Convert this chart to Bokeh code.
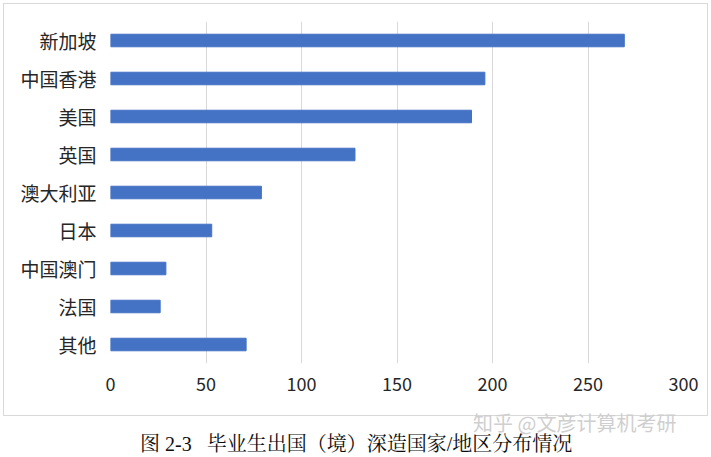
from bokeh.plotting import figure
from bokeh.models import Range1d, FixedTicker, InlineStyleSheet, Div
from bokeh.layouts import column
from bokeh.embed import file_html
from bokeh.resources import INLINE

categories = ["新加坡", "中国香港", "美国", "英国", "澳大利亚", "日本", "中国澳门", "法国", "其他"]
values = [269, 196, 189, 128, 79, 53, 29, 26, 71]
x_ticks = [0, 50, 100, 150, 200, 250, 300]
caption = "图 2-3&nbsp;&nbsp;&nbsp;毕业生出国（境）深造国家/地区分布情况"
watermark = "知乎 @文彦计算机考研"

W = 711
FIG_H = 417
border_css = InlineStyleSheet(css="""
:host { position: relative; }
:host::after {
  content: "";
  position: absolute;
  left: 3px; top: 3px;
  width: 705px; height: 413px;
  border: 1px solid #d9d9d9;
  box-sizing: border-box;
  pointer-events: none;
}
""")

p = figure(width=W, height=FIG_H, y_range=categories[::-1], x_range=Range1d(0, 300),
           output_backend="svg", toolbar_location=None,
           min_border_left=110, min_border_right=28, min_border_top=21,
           min_border_bottom=FIG_H - 363,
           stylesheets=[border_css])

p.hbar(y=categories, right=values, left=0, height=0.33, color="#4472C4")

p.outline_line_color = None
p.ygrid.grid_line_color = None
p.xgrid.grid_line_color = "#d9d9d9"
p.xgrid.grid_line_width = 1

p.xaxis.ticker = FixedTicker(ticks=x_ticks)
for ax in (p.xaxis[0], p.yaxis[0]):
    ax.axis_line_color = None
    ax.major_tick_line_color = None
    ax.minor_tick_line_color = None
    ax.major_tick_out = 0
    ax.major_tick_in = 0
    ax.minor_tick_out = 0
    ax.major_label_text_font = "Noto Sans CJK SC"
    ax.major_label_text_color = "#262626"
    ax.major_label_text_font_size = "18px"
p.yaxis.major_label_text_font_size = "19px"
p.xaxis.major_label_standoff = 13
p.yaxis.major_label_standoff = 14

html = (
    '<div style="position:relative;width:711px;height:40px;margin:0;padding:0;overflow:visible;">'
    '<span style="position:absolute;left:473px;top:-3px;font-family:\'Noto Sans CJK SC\';'
    'font-size:20px;line-height:17px;color:#cfcfcf;white-space:nowrap;">' + watermark + '</span>'
    '<span style="position:absolute;left:140px;top:18px;'
    'font-family:\'Liberation Serif\',\'Noto Serif CJK SC\',\'Noto Sans CJK SC\';'
    'font-size:20px;line-height:18px;color:#0d0d0d;white-space:nowrap;">' + caption + '</span>'
    '</div>'
)
cap = Div(text=html, width=W, height=457 - FIG_H, margin=0)

layout = column(p, cap, spacing=0, margin=0)
open("out.html", "w").write(file_html(layout, INLINE))
